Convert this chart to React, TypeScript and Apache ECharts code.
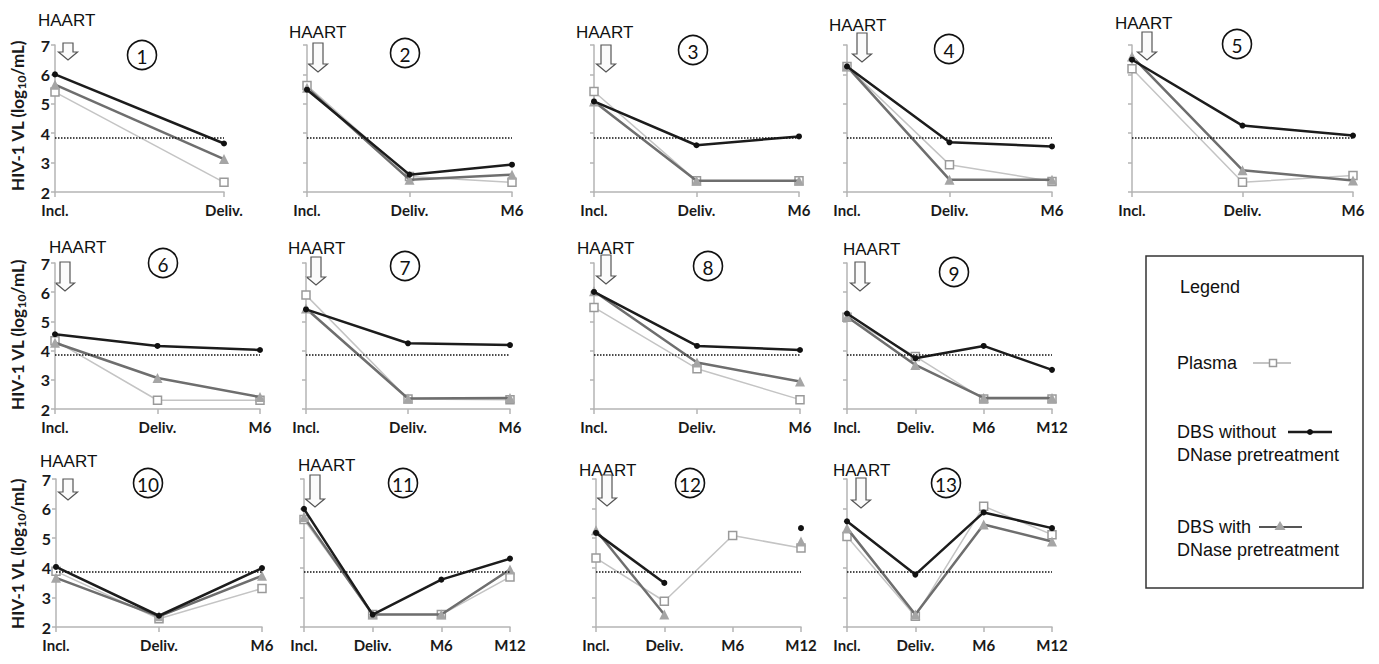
import React, { useEffect, useRef } from "react";
import * as echarts from "echarts";

// ---------- data ----------
const cats2 = ["Incl.", "Deliv."];
const cats3 = ["Incl.", "Deliv.", "M6"];
const cats4 = ["Incl.", "Deliv.", "M6", "M12"];
const yMin = 2;
const yMax = 7;
const threshold = 3.85;
const panelNumbers = ["1", "2", "3", "4", "5", "6", "7", "8", "9", "10", "11", "12", "13"];
const seriesNames = ["Plasma", "DBS without DNase pretreatment", "DBS with DNase pretreatment"];

const panelCats = [cats2, cats3, cats3, cats3, cats3, cats3, cats3, cats3, cats4, cats3, cats4, cats4, cats4];

const plasma = [
  [5.4, 2.33],
  [5.62, 2.53, 2.33],
  [5.42, 2.38, 2.38],
  [6.27, 2.93, 2.36],
  [6.19, 2.33, 2.56],
  [4.34, 2.3, 2.3],
  [5.9, 2.34, 2.32],
  [5.48, 3.38, 2.32],
  [5.14, 3.8, 2.34, 2.34],
  [3.88, 2.28, 3.3],
  [5.63, 2.42, 2.42, 3.69],
  [4.33, 2.87, 5.09, 4.67],
  [5.06, 2.36, 6.08, 5.12],
];
const dbsWithout = [
  [6.0, 3.65],
  [5.48, 2.59, 2.93],
  [5.08, 3.59, 3.89],
  [6.27, 3.69, 3.55],
  [6.5, 4.26, 3.92],
  [4.56, 4.16, 4.02],
  [5.41, 4.25, 4.19],
  [6.01, 4.16, 4.02],
  [5.27, 3.74, 4.16, 3.34],
  [4.03, 2.38, 3.99],
  [5.99, 2.42, 3.6, 4.31],
  [5.18, 3.49, null, 5.34],
  [5.57, 3.77, 5.87, 5.34],
];
const dbsWith = [
  [5.65, 3.12],
  [5.55, 2.42, 2.59],
  [5.08, 2.38, 2.38],
  [6.27, 2.42, 2.42],
  [6.61, 2.74, 2.39],
  [4.27, 3.06, 2.41],
  [5.44, 2.36, 2.38],
  [6.03, 3.59, 2.94],
  [5.16, 3.51, 2.38, 2.38],
  [3.66, 2.36, 3.73],
  [5.72, 2.42, 2.42, 3.94],
  [5.27, 2.42, null, 4.89],
  [5.34, 2.42, 5.46, 4.89],
];

// ---------- layout ----------
type Panel = {
  l: number; t: number; w: number; h: number;
  haart: [number, number];
  arrow: [number, number, number];
  circle: [number, number];
  yLabels: boolean;
};
const R1 = { t: 45, h: 147 };
const R2 = { t: 263, h: 146 };
const R3 = { t: 479, h: 148 };
const layout: Panel[] = [
  { l: 55, ...R1, w: 169, haart: [38, 20], arrow: [68, 43, 17], circle: [142, 55], yLabels: true },
  { l: 307, ...R1, w: 205, haart: [289, 32], arrow: [318, 43, 29], circle: [405, 53], yLabels: false },
  { l: 594, ...R1, w: 205, haart: [576, 32], arrow: [606, 45, 27], circle: [693, 50], yLabels: false },
  { l: 847, ...R1, w: 205, haart: [829, 25], arrow: [862, 33, 29], circle: [949, 49], yLabels: false },
  { l: 1132, ...R1, w: 221, haart: [1115, 23], arrow: [1147, 32, 28], circle: [1237, 44], yLabels: false },
  { l: 55, ...R2, w: 205, haart: [49, 247], arrow: [65, 262, 29], circle: [163, 263], yLabels: true },
  { l: 306, ...R2, w: 204, haart: [288, 248], arrow: [316, 257, 28], circle: [405, 266], yLabels: false },
  { l: 594, ...R2, w: 206, haart: [577, 248], arrow: [606, 255, 29], circle: [708, 266], yLabels: false },
  { l: 847, ...R2, w: 205, haart: [843, 249], arrow: [860, 262, 29], circle: [954, 272], yLabels: false },
  { l: 56, ...R3, w: 206, haart: [40, 461], arrow: [68, 479, 21], circle: [148, 483], yLabels: true },
  { l: 304, ...R3, w: 206, haart: [298, 465], arrow: [315, 475, 32], circle: [403, 483], yLabels: false },
  { l: 596, ...R3, w: 205, haart: [579, 470], arrow: [607, 475, 31], circle: [690, 483], yLabels: false },
  { l: 847, ...R3, w: 205, haart: [833, 470], arrow: [861, 478, 30], circle: [946, 483], yLabels: false },
];
const rowCenters = [116, 335, 554];

const AXIS = "#b5b5b5";
const CAT_FONT = "Lato, 'Open Sans', sans-serif";
const ARIAL = "'Liberation Sans', Arial, sans-serif";

function arrowPoints(cx: number, top: number, h: number) {
  const sw = 5, hw = 9.5, hh = 8;
  return [
    [cx - sw, top], [cx + sw, top], [cx + sw, top + h - hh], [cx + hw, top + h - hh],
    [cx, top + h], [cx - hw, top + h - hh], [cx - sw, top + h - hh],
  ];
}

function buildOption() {
  const grid = layout.map((p) => ({ left: p.l, top: p.t, width: p.w, height: p.h }));
  const xAxis = layout.map((p, i) => ({
    type: "category",
    gridIndex: i,
    data: panelCats[i],
    boundaryGap: false,
    axisLine: { lineStyle: { color: AXIS, width: 1.5 } },
    axisTick: { show: true, length: 5, lineStyle: { color: AXIS, width: 1.5 } },
    axisLabel: { fontFamily: CAT_FONT, fontSize: 15, fontWeight: "bold", color: "#1a1a1a", margin: 10, interval: 0 },
    splitLine: { show: false },
  }));
  const yAxis = layout.map((p, i) => ({
    type: "value",
    gridIndex: i,
    min: yMin,
    max: yMax,
    interval: 1,
    axisLine: { show: true, lineStyle: { color: AXIS, width: 1.5 } },
    axisTick: { show: true, length: 4, lineStyle: { color: AXIS, width: 1.5 } },
    axisLabel: { show: p.yLabels, fontFamily: CAT_FONT, fontSize: 16, fontWeight: "bold", color: "#1a1a1a", margin: 5 },
    splitLine: { show: false },
  }));
  const series: any[] = [];
  layout.forEach((p, i) => {
    series.push({
      name: seriesNames[0],
      type: "line",
      xAxisIndex: i,
      yAxisIndex: i,
      data: plasma[i],
      symbol: "rect",
      symbolSize: 8,
      showAllSymbol: true,
      itemStyle: { color: "#ffffff", borderColor: "#9a9a9a", borderWidth: 1.5 },
      lineStyle: { color: "#c4c4c4", width: 1.5 },
      z: 2,
      markLine: {
        silent: true,
        symbol: ["none", "none"],
        label: { show: false },
        lineStyle: { type: [1.5, 1.5], color: "#111", width: 1.5 },
        data: [{ yAxis: threshold }],
      },
    });
    series.push({
      name: seriesNames[2],
      type: "line",
      xAxisIndex: i,
      yAxisIndex: i,
      data: dbsWith[i],
      symbol: "triangle",
      symbolSize: 10,
      showAllSymbol: true,
      itemStyle: { color: "#a5a5a5" },
      lineStyle: { color: "#6e6e6e", width: 2.5 },
      z: 3,
    });
    series.push({
      name: seriesNames[1],
      type: "line",
      xAxisIndex: i,
      yAxisIndex: i,
      data: dbsWithout[i],
      symbol: "circle",
      symbolSize: 6,
      showAllSymbol: true,
      itemStyle: { color: "#111111" },
      lineStyle: { color: "#1c1c1c", width: 2.5 },
      z: 4,
    });
  });

  const graphic: any[] = [];
  layout.forEach((p, i) => {
    graphic.push({
      type: "text",
      x: p.haart[0],
      y: p.haart[1],
      style: { text: "HAART", fontFamily: ARIAL, fontSize: 17, fill: "#111", align: "left", verticalAlign: "middle" },
    });
    graphic.push({
      type: "polygon",
      shape: { points: arrowPoints(p.arrow[0], p.arrow[1], p.arrow[2]) },
      style: { fill: "#fbfbfb", stroke: "#555", lineWidth: 1.2 },
    });
    graphic.push({
      type: "circle",
      shape: { cx: p.circle[0], cy: p.circle[1], r: 14.5 },
      style: { fill: "none", stroke: "#111", lineWidth: 1.6 },
    });
    graphic.push({
      type: "text",
      x: p.circle[0],
      y: p.circle[1] + 1,
      style: { text: panelNumbers[i], fontFamily: CAT_FONT, fontSize: 19, fill: "#111", align: "center", verticalAlign: "middle" },
    });
  });
  rowCenters.forEach((cy) => {
    graphic.push({
      type: "text",
      x: 17,
      y: cy,
      rotation: Math.PI / 2,
      style: {
        text: "{a|HIV-1 VL (log}{b|10}{a|/mL)}",
        align: "center",
        verticalAlign: "middle",
        rich: {
          a: { fontFamily: CAT_FONT, fontSize: 17, fontWeight: "bold", fill: "#1a1a1a", color: "#1a1a1a" },
          b: { fontFamily: CAT_FONT, fontSize: 12, fontWeight: "bold", fill: "#1a1a1a", color: "#1a1a1a", padding: [9, 0, 0, 0] },
        },
      },
    });
  });

  // legend box
  const lt = (text: string, x: number, y: number) => ({
    type: "text",
    x,
    y,
    style: { text, fontFamily: ARIAL, fontSize: 18, fill: "#111", align: "left", verticalAlign: "middle" },
  });
  graphic.push({
    type: "rect",
    shape: { x: 1146, y: 256, width: 217, height: 332 },
    style: { fill: "none", stroke: "#333", lineWidth: 1.5 },
  });
  graphic.push(lt("Legend", 1180, 287));
  graphic.push(lt(seriesNames[0], 1177, 363));
  graphic.push(lt("DBS without", 1177, 432));
  graphic.push(lt("DNase pretreatment", 1177, 455));
  graphic.push(lt("DBS with", 1177, 527));
  graphic.push(lt("DNase pretreatment", 1177, 550));
  graphic.push({ type: "line", shape: { x1: 1253, y1: 363, x2: 1291, y2: 363 }, style: { stroke: "#c4c4c4", lineWidth: 2 } });
  graphic.push({ type: "rect", shape: { x: 1269.5, y: 359.5, width: 7, height: 7 }, style: { fill: "#fff", stroke: "#9a9a9a", lineWidth: 1.5 } });
  graphic.push({ type: "line", shape: { x1: 1288, y1: 432, x2: 1332, y2: 432 }, style: { stroke: "#1c1c1c", lineWidth: 2.5 } });
  graphic.push({ type: "circle", shape: { cx: 1310, cy: 432, r: 3 }, style: { fill: "#111" } });
  graphic.push({ type: "line", shape: { x1: 1259, y1: 527, x2: 1302, y2: 527 }, style: { stroke: "#555", lineWidth: 2 } });
  graphic.push({ type: "polygon", shape: { points: [[1280, 521], [1285.5, 530], [1274.5, 530]] }, style: { fill: "#a5a5a5" } });

  return {
    animation: false,
    backgroundColor: "#ffffff",
    grid,
    xAxis,
    yAxis,
    series,
    graphic,
  };
}

export default function App() {
  const ref = useRef<HTMLDivElement>(null);
  useEffect(() => {
    if (!ref.current) return;
    const chart = echarts.init(ref.current, undefined, { renderer: "svg" });
    chart.setOption(buildOption() as any);
    return () => chart.dispose();
  }, []);
  return (
    <div
      ref={ref}
      style={{ position: "fixed", left: 0, top: 0, width: 1379, height: 664, background: "#fff" }}
    />
  );
}
